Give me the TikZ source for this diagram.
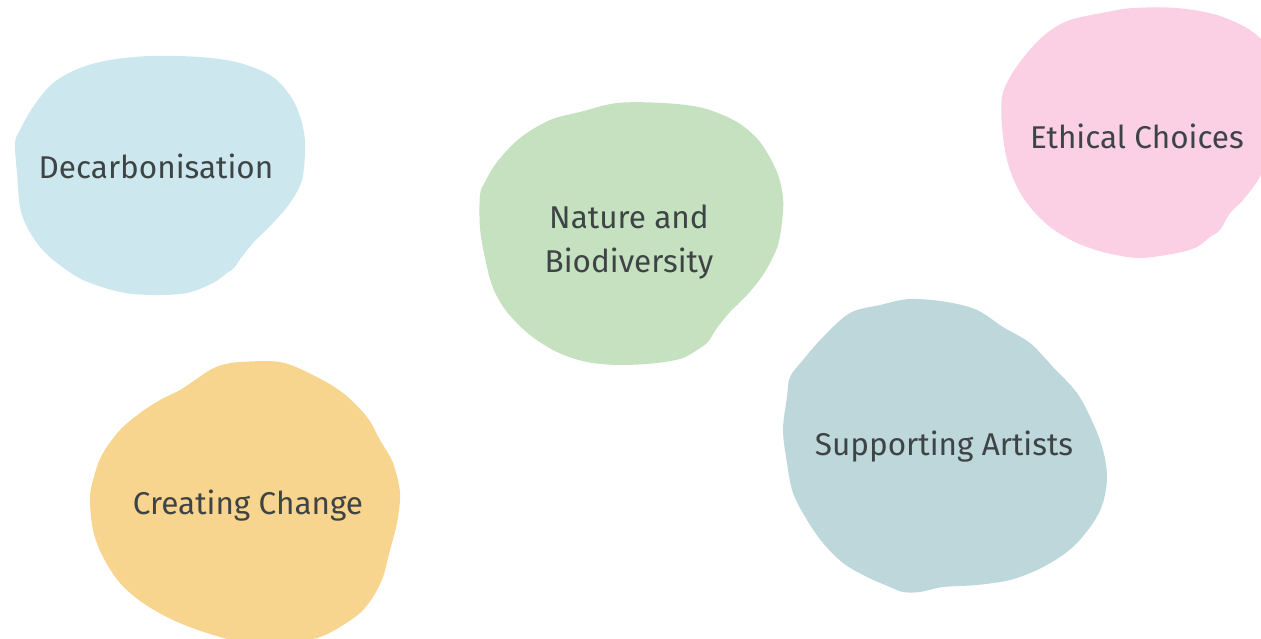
\documentclass[tikz,border=0pt]{standalone}
\usepackage{fontspec}
\setmainfont{Fira Sans}
\definecolor{blobblue}{HTML}{CCE8EE}
\definecolor{blobgreen}{HTML}{C5E1C0}
\definecolor{blobpink}{HTML}{FBD0E4}
\definecolor{blobteal}{HTML}{BDD7DB}
\definecolor{blobyellow}{HTML}{F8D58E}
\definecolor{labeltext}{HTML}{3E4446}
\tikzset{
  blob/.style={smooth cycle, tension=0.55},
  label text/.style={text=labeltext, font=\fontsize{31.5}{44}\selectfont, align=center, inner sep=0pt}
}
\begin{document}
\begin{tikzpicture}[x=1pt,y=-1pt]
\useasboundingbox (0,0) rectangle (1261,638);
% Decarbonisation
\fill[blobblue] plot[blob] coordinates {
(80,68) (110,60) (150,56) (200,57) (240,63) (273,77) (293,100) (303,127) (305,150)
(302,180) (290,203) (273,223) (253,243) (241,258) (234,268) (227,273) (213,283)
(187,293) (153,295) (120,292) (83,280) (57,263) (40,247) (27,227) (20,207)
(17,173) (15,143) (20,130) (33,107) (53,83)};
% Nature and Biodiversity
\fill[blobgreen] plot[blob] coordinates {
(550,120) (580,112) (617,103) (663,103) (703,108) (737,122) (760,142) (777,172)
(783,198) (782,222) (777,248) (763,275) (747,295) (730,312) (717,328) (708,342)
(700,348) (683,358) (657,363) (620,365) (587,362) (557,352) (530,335) (507,312)
(493,288) (485,258) (480,228) (480,195) (485,182) (497,162) (520,138)};
% Ethical Choices
\fill[blobpink] plot[blob] coordinates {
(1070,20) (1107,12) (1133,8) (1177,8) (1217,15) (1250,30) (1268,50) (1276,90)
(1276,130) (1262,173) (1243,200) (1230,213) (1220,230) (1210,237) (1197,247)
(1177,253) (1140,258) (1107,253) (1077,243) (1050,227) (1030,207) (1017,187)
(1007,160) (1002,127) (1002,97) (1010,77) (1027,53) (1047,33)};
% Supporting Artists
\fill[blobteal] plot[blob] coordinates {
(850,313) (880,305) (910,299) (947,302) (977,310) (1003,327) (1030,343) (1053,367)
(1077,393) (1093,423) (1103,450) (1107,477) (1103,503) (1093,523) (1077,543)
(1060,557) (1037,570) (1010,580) (977,585) (943,587) (920,592) (903,592) (890,587)
(867,577) (843,563) (823,543) (807,520) (793,493) (787,463) (783,430) (787,397)
(790,377) (803,360) (823,337)};
% Creating Change
\fill[blobyellow] plot[blob] coordinates {
(180,390) (198,378) (210,370) (222,365) (240,362) (280,362) (313,375)
(343,393) (367,417) (380,440) (393,463) (400,493) (397,523) (390,550) (383,577)
(373,597) (360,613) (340,627) (320,637) (293,643) (247,643) (207,633) (173,620)
(143,603) (120,583) (103,557) (93,530) (90,497) (95,473) (103,453) (120,430)
(140,413) (160,400)};
% labels
\node[label text] (decarb) at (156,166) {Decarbonisation};
\node[label text] (nature) at (629,242) {Nature and\\Biodiversity};
\node[label text] (ethical) at (1137,136) {Ethical Choices};
\node[label text] (artists) at (944,447) {Supporting Artists};
\node[label text] (change) at (248,506) {Creating Change};
\end{tikzpicture}
\end{document}
